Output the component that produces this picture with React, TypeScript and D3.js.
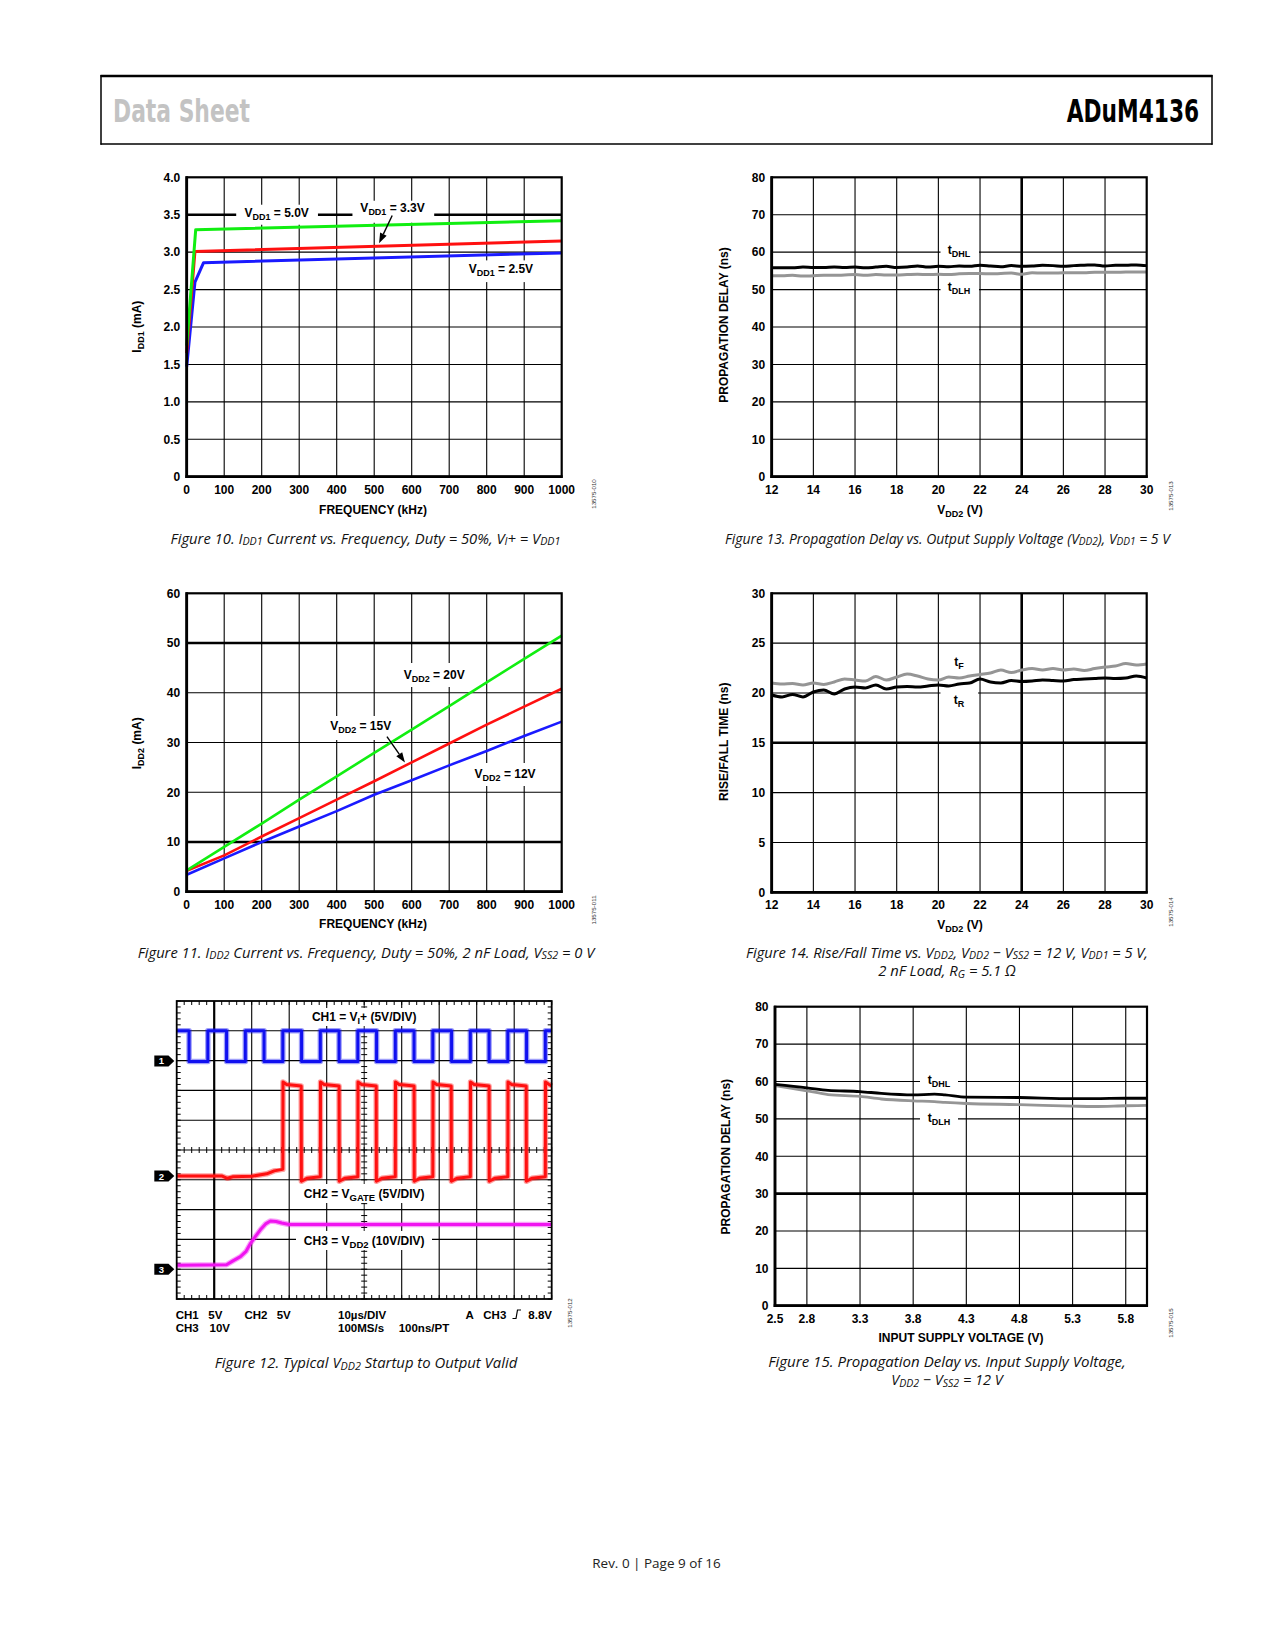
import React, { useLayoutEffect, useRef, useState } from 'react';
import * as d3 from 'd3';

// ---------------- DATA ----------------
// Figure 10: IDD1 vs frequency
const f10XTicks = [0, 100, 200, 300, 400, 500, 600, 700, 800, 900, 1000];
const f10YTicks = [0, 0.5, 1, 1.5, 2, 2.5, 3, 3.5, 4];
const f10Vdd50Freq = [0, 24, 1000];
const f10Vdd50Idd = [1.75, 3.3, 3.42];
const f10Vdd33Freq = [0, 22, 1000];
const f10Vdd33Idd = [1.65, 3.01, 3.15];
const f10Vdd25Freq = [0, 22, 45, 1000];
const f10Vdd25Idd = [1.47, 2.6, 2.86, 2.99];

// Figure 11: IDD2 vs frequency
const f11XTicks = [0, 100, 200, 300, 400, 500, 600, 700, 800, 900, 1000];
const f11YTicks = [0, 10, 20, 30, 40, 50, 60];
const f11Freq = [0, 100, 200, 300, 400, 500, 600, 700, 800, 900, 1000];
const f11Vdd20 = [4.3, 9.0, 13.7, 18.5, 23.2, 27.9, 32.6, 37.3, 42.1, 46.8, 51.5];
const f11Vdd15 = [4.2, 7.3, 11.1, 14.8, 18.5, 22.2, 26.0, 29.8, 33.6, 37.2, 40.8];
const f11Vdd12 = [3.4, 6.7, 10.0, 13.1, 16.2, 19.5, 22.4, 25.4, 28.3, 31.3, 34.2];

// Figure 13: propagation delay vs VDD2
const f13XTicks = [12, 14, 16, 18, 20, 22, 24, 26, 28, 30];
const f13YTicks = [0, 10, 20, 30, 40, 50, 60, 70, 80];
const f13Vdd2 = [12, 12.5, 13, 13.5, 14, 14.5, 15, 15.5, 16, 16.5, 17, 17.5, 18, 18.5, 19, 19.5, 20, 20.5, 21, 21.5, 22, 22.5, 23, 23.5, 24, 24.5, 25, 25.5, 26, 26.5, 27, 27.5, 28, 28.5, 29, 29.5, 30];
const f13Dhl = [55.8, 55.8, 55.8, 56.0, 55.9, 55.9, 56.0, 55.9, 56.0, 55.8, 56.0, 56.2, 55.9, 56.0, 56.3, 56.0, 56.2, 56.1, 56.3, 56.2, 56.5, 56.3, 56.1, 56.4, 56.2, 56.3, 56.5, 56.4, 56.2, 56.4, 56.5, 56.6, 56.3, 56.5, 56.5, 56.6, 56.4];
const f13Dlh = [53.7, 53.7, 53.8, 53.6, 53.7, 53.8, 53.8, 53.9, 54.0, 53.8, 54.0, 53.9, 53.9, 54.0, 54.1, 54.0, 54.1, 54.0, 54.2, 54.3, 54.3, 54.2, 54.3, 54.4, 54.1, 54.5, 54.4, 54.4, 54.5, 54.5, 54.5, 54.6, 54.6, 54.6, 54.7, 54.7, 54.7];

// Figure 14: rise/fall time vs VDD2
const f14XTicks = [12, 14, 16, 18, 20, 22, 24, 26, 28, 30];
const f14YTicks = [0, 5, 10, 15, 20, 25, 30];
const f14Vdd2 = [12, 12.5, 13, 13.5, 14, 14.5, 15, 15.5, 16, 16.5, 17, 17.5, 18, 18.5, 19, 19.5, 20, 20.5, 21, 21.5, 22, 22.5, 23, 23.5, 24, 24.5, 25, 25.5, 26, 26.5, 27, 27.5, 28, 28.5, 29, 29.5, 30];
const f14Tf = [21.0, 20.9, 20.95, 20.8, 21.0, 20.85, 21.1, 21.4, 21.3, 21.2, 21.65, 21.3, 21.6, 21.9, 21.7, 21.4, 21.3, 21.6, 21.5, 21.7, 21.85, 22.0, 22.3, 22.05, 22.3, 22.45, 22.3, 22.45, 22.3, 22.4, 22.25, 22.45, 22.6, 22.7, 22.95, 22.8, 22.9];
const f14Tr = [19.8, 19.6, 19.85, 19.6, 20.1, 20.3, 19.9, 20.4, 20.6, 20.5, 20.8, 20.4, 20.6, 20.65, 20.6, 20.7, 20.8, 20.7, 20.9, 21.0, 21.4, 21.1, 21.0, 21.25, 21.15, 21.2, 21.3, 21.25, 21.2, 21.35, 21.4, 21.45, 21.5, 21.45, 21.5, 21.7, 21.5];

// Figure 15: propagation delay vs input supply
const f15XTicks = [2.5, 2.8, 3.3, 3.8, 4.3, 4.8, 5.3, 5.8];
const f15YTicks = [0, 10, 20, 30, 40, 50, 60, 70, 80];
const f15Vdd1 = [2.5, 2.8, 3.0, 3.3, 3.5, 3.8, 4.0, 4.1, 4.3, 4.8, 5.3, 5.5, 5.8, 6.0];
const f15Dhl = [59.2, 58.3, 57.6, 57.3, 56.8, 56.4, 56.6, 56.4, 55.8, 55.7, 55.4, 55.4, 55.5, 55.5];
const f15Dlh = [58.9, 57.5, 56.5, 56.0, 55.3, 54.8, 54.6, 54.4, 54.1, 53.8, 53.4, 53.3, 53.5, 53.6];

// Figure 12: scope capture (time in µs, level in divisions from bottom)
const scDivs = [0, 1, 2, 3, 4, 5, 6, 7, 8, 9, 10];
const ch1High = 9.0;
const ch1Low = 7.97;
const ch1Fall = [3.3, 13.3, 23.3, 33.3, 43.3, 53.3, 63.3, 73.3, 83.3, 93.3];
const ch1Rise = [8.3, 18.3, 28.3, 38.3, 48.3, 58.3, 68.3, 78.3, 88.3, 98.3];
const ch2PreT = [0, 12, 13.5, 15, 20, 24, 26, 28.2];
const ch2PreV = [4.13, 4.13, 4.05, 4.1, 4.12, 4.2, 4.3, 4.35];
const ch2High = 7.15;
const ch2HighPeak = 7.28;
const ch2Low = 4.1;
const ch2LowDip = 3.95;
const ch2Rise = [28.3, 38.3, 48.3, 58.3, 68.3, 78.3, 88.3, 98.3];
const ch2Fall = [33.2, 43.3, 53.2, 63.3, 73.2, 83.3, 93.2];
const ch3T = [0, 13.3, 15, 17, 18.5, 19.7, 21, 22.3, 23.7, 25, 26.5, 28, 30, 100];
const ch3V = [1.13, 1.15, 1.28, 1.42, 1.6, 1.87, 2.1, 2.32, 2.52, 2.62, 2.6, 2.55, 2.5, 2.5];
const markerLevels = [7.99, 4.13, 1.0];
const markerNames = ['1', '2', '3'];

// ---------------- STYLE ----------------
const FONT = "'Liberation Sans', Arial, Helvetica, sans-serif";
const CAP = "'Open Sans', 'Noto Sans', sans-serif";
const NARROW = "'Liberation Sans Narrow', 'DejaVu Sans Condensed', 'Liberation Sans', sans-serif";
const GREEN = '#11ee11';
const RED = '#ff1010';
const BLUE = '#1a1aff';
const GRAY = '#959595';

type Sc = d3.ScaleLinear<number, number>;

function Rich(props: {
  x: number; y: number; s: string; size?: number; sub?: number; anchor?: string;
  weight?: string | number; family?: string; italic?: boolean; transform?: string;
  tl?: number; fill?: string; shift?: number;
}) {
  const ref = useRef<SVGTextElement>(null);
  const [sx, setSx] = useState(1);
  useLayoutEffect(() => {
    if (!props.tl) return;
    const measure = () => {
      const el = ref.current;
      if (!el) return;
      const w = el.getBBox().width;
      if (w > 0) setSx(props.tl! / w);
    };
    measure();
    const fs: any = (document as any).fonts;
    if (fs && fs.ready) fs.ready.then(measure);
  }, [props.tl, props.s]);

  const size = props.size ?? 12;
  const sub = props.sub ?? size * 0.75;
  const shift = props.shift ?? size * 0.25;
  const parts: { t: string; sub: boolean }[] = [];
  const re = /_\{([^}]*)\}/g;
  let last = 0;
  let m: RegExpExecArray | null;
  while ((m = re.exec(props.s))) {
    if (m.index > last) parts.push({ t: props.s.slice(last, m.index), sub: false });
    parts.push({ t: m[1], sub: true });
    last = m.index + m[0].length;
  }
  if (last < props.s.length) parts.push({ t: props.s.slice(last), sub: false });
  let down = false;
  const kids = parts.map((p, i) => {
    let dy = 0;
    if (p.sub && !down) { dy = shift; down = true; }
    else if (!p.sub && down) { dy = -shift; down = false; }
    return (
      <tspan key={i} dy={dy || undefined} fontSize={p.sub ? sub : size}>{p.t}</tspan>
    );
  });
  const common = {
    textAnchor: props.anchor ?? 'middle',
    fontFamily: props.family ?? FONT,
    fontWeight: props.weight ?? 'bold',
    fontStyle: props.italic ? 'italic' : 'normal',
    fontSize: size,
    fill: props.fill ?? '#000',
    style: { whiteSpace: 'pre' as const },
  };
  if (props.tl) {
    return (
      <g transform={`translate(${props.x},${props.y}) scale(${sx},1)`}>
        <text ref={ref} x={0} y={0} {...common}>{kids}</text>
      </g>
    );
  }
  return (
    <text
      x={props.transform ? undefined : props.x}
      y={props.transform ? undefined : props.y}
      transform={props.transform}
      {...common}
    >
      {kids}
    </text>
  );
}

function Grid(props: { x: Sc; y: Sc; xg: number[]; yg: number[]; xThick?: number[]; yThick?: number[] }) {
  const { x, y, xg, yg } = props;
  const xT = props.xThick ?? [];
  const yT = props.yThick ?? [];
  const [L, R] = x.range();
  const [B, T] = y.range();
  return (
    <g>
      {xg.filter(v => x(v) > L + 1 && x(v) < R - 1).map(v => (
        <line key={'x' + v} x1={x(v)} x2={x(v)} y1={T} y2={B} stroke="#000" strokeWidth={xT.includes(v) ? 2.6 : 1.1} />
      ))}
      {yg.filter(v => y(v) < B - 1 && y(v) > T + 1).map(v => (
        <line key={'y' + v} x1={L} x2={R} y1={y(v)} y2={y(v)} stroke="#000" strokeWidth={yT.includes(v) ? 2.6 : 1.1} />
      ))}
    </g>
  );
}

function Frame(props: { x: Sc; y: Sc }) {
  const [L, R] = props.x.range();
  const [B, T] = props.y.range();
  return (
    <g>
      <rect x={L} y={T} width={R - L} height={B - T} fill="none" stroke="#000" strokeWidth={2.2} />
      <line x1={L} x2={L} y1={T - 1} y2={B + 1.3} stroke="#000" strokeWidth={2.8} />
      <line x1={L - 1.3} x2={R + 1} y1={B} y2={B} stroke="#000" strokeWidth={2.8} />
    </g>
  );
}

function TickLabels(props: { x: Sc; y: Sc; xt: number[]; yt: number[]; xf: (v: number) => string; yf: (v: number) => string }) {
  const { x, y } = props;
  const [L] = x.range();
  const [B] = y.range();
  return (
    <g fontFamily={FONT} fontWeight="bold" fontSize={12} fill="#000">
      {props.xt.map(v => (
        <text key={'xt' + v} x={x(v)} y={B + 17} textAnchor="middle">{props.xf(v)}</text>
      ))}
      {props.yt.map(v => (
        <text key={'yt' + v} x={L - 6.5} y={y(v) + 4.3} textAnchor="end">{props.yf(v)}</text>
      ))}
    </g>
  );
}

function Arrow(props: { x1: number; y1: number; x2: number; y2: number }) {
  const { x1, y1, x2, y2 } = props;
  const a = Math.atan2(y2 - y1, x2 - x1);
  const len = 10;
  const w = 3.6;
  const bx = x2 - len * Math.cos(a);
  const by = y2 - len * Math.sin(a);
  const p1 = [bx + w * Math.sin(a), by - w * Math.cos(a)];
  const p2 = [bx - w * Math.sin(a), by + w * Math.cos(a)];
  return (
    <g>
      <line x1={x1} y1={y1} x2={bx} y2={by} stroke="#000" strokeWidth={1.4} />
      <polygon points={`${x2},${y2} ${p1[0]},${p1[1]} ${p2[0]},${p2[1]}`} fill="#000" />
    </g>
  );
}

function Bg(props: { x: number; y: number; w: number; h: number }) {
  return <rect x={props.x} y={props.y} width={props.w} height={props.h} fill="#fff" />;
}

function zip(a: number[], b: number[]): [number, number][] {
  return a.map((v, i) => [v, b[i]] as [number, number]);
}

function ChartId(props: { x: number; y: number; id: string }) {
  return (
    <text transform={`translate(${props.x},${props.y}) rotate(-90)`} textAnchor="middle" fontFamily={FONT} fontSize={6.2} fill="#333">
      {props.id}
    </text>
  );
}

// ---------------- FIGURE 10 ----------------
function Fig10() {
  const x = d3.scaleLinear().domain([0, 1000]).range([186.7, 561.7]);
  const y = d3.scaleLinear().domain([0, 4]).range([476.7, 177.3]);
  const line = d3.line<[number, number]>().x(d => x(d[0])).y(d => y(d[1]));
  const yl = y(3.5);
  return (
    <g>
      <Grid x={x} y={y} xg={f10XTicks} yg={f10YTicks} yThick={[3.5]} />
      <Bg x={x(132)} y={yl - 10} w={x(350) - x(132)} h={20} />
      <Bg x={x(442)} y={yl - 14} w={x(660) - x(442)} h={22} />
      <Bg x={x(737)} y={y(2.89)} w={x(940) - x(737)} h={y(2.6) - y(2.89)} />
      <path d={line(zip(f10Vdd25Freq, f10Vdd25Idd)) || ''} fill="none" stroke={BLUE} strokeWidth={3} strokeLinejoin="round" />
      <path d={line(zip(f10Vdd33Freq, f10Vdd33Idd)) || ''} fill="none" stroke={RED} strokeWidth={3} strokeLinejoin="round" />
      <path d={line(zip(f10Vdd50Freq, f10Vdd50Idd)) || ''} fill="none" stroke={GREEN} strokeWidth={3} strokeLinejoin="round" />
      <Frame x={x} y={y} />
      <TickLabels x={x} y={y} xt={f10XTicks} yt={f10YTicks} xf={v => String(v)} yf={v => (v === 0 ? '0' : v.toFixed(1))} />
      <Rich x={x(240)} y={yl + 2} s={'V_{DD1} = 5.0V'} />
      <Rich x={x(549)} y={yl - 2.6} s={'V_{DD1} = 3.3V'} />
      <Arrow x1={x(548)} y1={y(3.49)} x2={x(513)} y2={y(3.12)} />
      <Rich x={x(838)} y={y(2.72)} s={'V_{DD1} = 2.5V'} />
      <Rich x={373} y={513.5} s={'FREQUENCY (kHz)'} />
      <Rich x={0} y={0} transform={`translate(141,326.7) rotate(-90)`} s={'I_{DD1} (mA)'} />
      <ChartId x={596} y={494} id="13575-010" />
    </g>
  );
}

// ---------------- FIGURE 11 ----------------
function Fig11() {
  const x = d3.scaleLinear().domain([0, 1000]).range([186.7, 561.7]);
  const y = d3.scaleLinear().domain([0, 60]).range([891.7, 593.3]);
  const line = d3.line<[number, number]>().x(d => x(d[0])).y(d => y(d[1]));
  return (
    <g>
      <Grid x={x} y={y} xg={f11XTicks} yg={f11YTicks} yThick={[10, 50]} />
      <Bg x={398} y={663} w={72} h={24} />
      <Bg x={325} y={716} w={72} h={24} />
      <Bg x={469} y={763} w={72} h={23} />
      <path d={line(zip(f11Freq, f11Vdd12)) || ''} fill="none" stroke={BLUE} strokeWidth={2.6} strokeLinejoin="round" />
      <path d={line(zip(f11Freq, f11Vdd15)) || ''} fill="none" stroke={RED} strokeWidth={2.6} strokeLinejoin="round" />
      <path d={line(zip(f11Freq, f11Vdd20)) || ''} fill="none" stroke={GREEN} strokeWidth={2.6} strokeLinejoin="round" />
      <Frame x={x} y={y} />
      <TickLabels x={x} y={y} xt={f11XTicks} yt={f11YTicks} xf={v => String(v)} yf={v => String(v)} />
      <Rich x={x(660)} y={y(42.8)} s={'V_{DD2} = 20V'} />
      <Rich x={x(464)} y={y(32.5)} s={'V_{DD2} = 15V'} />
      <Arrow x1={x(534)} y1={y(31.2)} x2={x(582)} y2={y(26.0)} />
      <Rich x={x(849)} y={y(22.8)} s={'V_{DD2} = 12V'} />
      <Rich x={373} y={928} s={'FREQUENCY (kHz)'} />
      <Rich x={0} y={0} transform={`translate(141,743.3) rotate(-90)`} s={'I_{DD2} (mA)'} />
      <ChartId x={596} y={910} id="13575-011" />
    </g>
  );
}

// ---------------- FIGURE 13 ----------------
function Fig13() {
  const x = d3.scaleLinear().domain([12, 30]).range([771.7, 1146.7]);
  const y = d3.scaleLinear().domain([0, 80]).range([476.7, 177.3]);
  const line = d3.line<[number, number]>().x(d => x(d[0])).y(d => y(d[1])).curve(d3.curveMonotoneX);
  return (
    <g>
      <Grid x={x} y={y} xg={f13XTicks} yg={f13YTicks} xThick={[24]} />
      <Bg x={940.5} y={y(60) - 10} w={38.5} h={20} />
      <Bg x={940.5} y={y(50) - 10} w={38.5} h={20} />
      <path d={line(zip(f13Vdd2, f13Dlh)) || ''} fill="none" stroke={GRAY} strokeWidth={3} />
      <path d={line(zip(f13Vdd2, f13Dhl)) || ''} fill="none" stroke="#000" strokeWidth={3} />
      <Frame x={x} y={y} />
      <TickLabels x={x} y={y} xt={f13XTicks} yt={f13YTicks} xf={v => String(v)} yf={v => String(v)} />
      <Rich x={959} y={y(60) + 1.8} s={'t_{DHL}'} sub={9} shift={3} />
      <Rich x={959} y={y(50) + 1.3} s={'t_{DLH}'} sub={9} shift={3} />
      <Rich x={960} y={513.5} s={'V_{DD2} (V)'} />
      <Rich x={0} y={0} transform={`translate(728,325) rotate(-90)`} s={'PROPAGATION DELAY (ns)'} />
      <ChartId x={1173} y={496} id="13575-013" />
    </g>
  );
}

// ---------------- FIGURE 14 ----------------
function Fig14() {
  const x = d3.scaleLinear().domain([12, 30]).range([771.7, 1146.7]);
  const y = d3.scaleLinear().domain([0, 30]).range([892.3, 593.3]);
  const line = d3.line<[number, number]>().x(d => x(d[0])).y(d => y(d[1])).curve(d3.curveMonotoneX);
  return (
    <g>
      <Grid x={x} y={y} xg={f14XTicks} yg={f14YTicks} xThick={[24]} yThick={[15]} />
      <Bg x={940.5} y={688} w={37.5} h={20} />
      <path d={line(zip(f14Vdd2, f14Tf)) || ''} fill="none" stroke={GRAY} strokeWidth={3} />
      <path d={line(zip(f14Vdd2, f14Tr)) || ''} fill="none" stroke="#000" strokeWidth={3} />
      <Frame x={x} y={y} />
      <TickLabels x={x} y={y} xt={f14XTicks} yt={f14YTicks} xf={v => String(v)} yf={v => String(v)} />
      <Rich x={959} y={665.5} s={'t_{F}'} sub={9} shift={3} />
      <Rich x={959} y={704.3} s={'t_{R}'} sub={9} shift={3} />
      <Rich x={960} y={929} s={'V_{DD2} (V)'} />
      <Rich x={0} y={0} transform={`translate(728,741.7) rotate(-90)`} s={'RISE/FALL TIME (ns)'} />
      <ChartId x={1173} y={912} id="13575-014" />
    </g>
  );
}

// ---------------- FIGURE 15 ----------------
function Fig15() {
  const x = d3.scaleLinear().domain([2.5, 6.0]).range([775, 1147]);
  const y = d3.scaleLinear().domain([0, 80]).range([1305.7, 1006.7]);
  const line = d3.line<[number, number]>().x(d => x(d[0])).y(d => y(d[1])).curve(d3.curveMonotoneX);
  return (
    <g>
      <Grid x={x} y={y} xg={f15XTicks} yg={f15YTicks} yThick={[30]} />
      <Bg x={920} y={y(60) - 10} w={38} h={20} />
      <Bg x={920} y={y(50) - 10} w={38} h={20} />
      <path d={line(zip(f15Vdd1, f15Dlh)) || ''} fill="none" stroke={GRAY} strokeWidth={2.8} />
      <path d={line(zip(f15Vdd1, f15Dhl)) || ''} fill="none" stroke="#000" strokeWidth={2.8} />
      <Frame x={x} y={y} />
      <TickLabels x={x} y={y} xt={f15XTicks} yt={f15YTicks} xf={v => v.toFixed(1)} yf={v => String(v)} />
      <Rich x={939} y={y(60) + 2.8} s={'t_{DHL}'} sub={9} shift={3} />
      <Rich x={939} y={y(50) + 2.8} s={'t_{DLH}'} sub={9} shift={3} />
      <Rich x={961} y={1342} s={'INPUT SUPPLY VOLTAGE (V)'} />
      <Rich x={0} y={0} transform={`translate(729.5,1156.7) rotate(-90)`} s={'PROPAGATION DELAY (ns)'} />
      <ChartId x={1173} y={1323} id="13575-015" />
    </g>
  );
}

// ---------------- FIGURE 12 (scope) ----------------
function squareWave(fall: number[], rise: number[], hi: number, lo: number, t0: number, t1: number, startHigh: boolean): [number, number][] {
  const ev = [...fall.map(t => ({ t, h: false })), ...rise.map(t => ({ t, h: true }))].sort((a, b) => a.t - b.t);
  let cur = startHigh ? hi : lo;
  const pts: [number, number][] = [[t0, cur]];
  ev.forEach(e => {
    pts.push([e.t, cur]);
    cur = e.h ? hi : lo;
    pts.push([e.t, cur]);
  });
  pts.push([t1, cur]);
  return pts;
}

function gateWave(): [number, number][] {
  const pts: [number, number][] = zip(ch2PreT, ch2PreV);
  const ev = [...ch2Fall.map(t => ({ t, h: false })), ...ch2Rise.map(t => ({ t, h: true }))].sort((a, b) => a.t - b.t);
  let cur = ch2PreV[ch2PreV.length - 1];
  ev.forEach(e => {
    pts.push([e.t, cur]);
    if (e.h) {
      pts.push([e.t + 0.05, ch2HighPeak]);
      pts.push([e.t + 1.0, ch2High + 0.05]);
      cur = ch2High;
    } else {
      pts.push([e.t + 0.05, ch2LowDip]);
      pts.push([e.t + 1.5, ch2Low - 0.05]);
      cur = ch2Low;
    }
  });
  pts.push([100, cur]);
  return pts;
}

function Fig12() {
  const L = 176.7, R = 551.7, T = 1001, B = 1299;
  const x = d3.scaleLinear().domain([0, 100]).range([L, R]);
  const y = d3.scaleLinear().domain([0, 10]).range([B, T]);
  const xd = d3.scaleLinear().domain([0, 10]).range([L, R]);
  const line = d3.line<[number, number]>().x(d => x(d[0])).y(d => y(d[1]));
  const cx = xd(5);
  const cy = y(5);
  const minorX = d3.range(0, 10.01, 0.2);
  const minorY = d3.range(0, 10.01, 0.2);
  const ch1 = squareWave(ch1Fall, ch1Rise, ch1High, ch1Low, 0, 100, true);
  const ch2 = gateWave();
  const ch3 = zip(ch3T, ch3V);
  const trace = (pts: [number, number][], c: string) => (
    <g>
      <path d={line(pts) || ''} fill="none" stroke={c} strokeWidth={5.5} strokeOpacity={0.4} strokeLinejoin="round" />
      <path d={line(pts) || ''} fill="none" stroke={c} strokeWidth={3} strokeLinejoin="round" />
    </g>
  );
  return (
    <g>
      {scDivs.filter(v => v > 0 && v < 10).map(v => (
        <line key={'sv' + v} x1={xd(v)} x2={xd(v)} y1={T} y2={B} stroke="#000" strokeWidth={v === 1 ? 2.2 : v === 5 ? 0.9 : 1.1} />
      ))}
      {scDivs.filter(v => v > 0 && v < 10).map(v => (
        <line key={'sh' + v} x1={L} x2={R} y1={y(v)} y2={y(v)} stroke="#000" strokeWidth={1.1} />
      ))}
      {minorX.map((v, i) => (
        <g key={'mx' + i}>
          <line x1={xd(v)} x2={xd(v)} y1={T} y2={T + 4} stroke="#000" strokeWidth={1} />
          <line x1={xd(v)} x2={xd(v)} y1={B} y2={B - 4} stroke="#000" strokeWidth={1} />
          <line x1={xd(v)} x2={xd(v)} y1={cy - 3} y2={cy + 3} stroke="#000" strokeWidth={1} />
        </g>
      ))}
      {minorY.map((v, i) => (
        <g key={'my' + i}>
          <line x1={L} x2={L + 4} y1={y(v)} y2={y(v)} stroke="#000" strokeWidth={1} />
          <line x1={R} x2={R - 4} y1={y(v)} y2={y(v)} stroke="#000" strokeWidth={1} />
          <line x1={cx - 3} x2={cx + 3} y1={y(v)} y2={y(v)} stroke="#000" strokeWidth={1} />
        </g>
      ))}
      <Bg x={306} y={1008} w={116} h={18} />
      <Bg x={296} y={1184} w={136} h={19} />
      <Bg x={296} y={1231} w={136} h={19} />
      {trace(ch3, '#f014f0')}
      {trace(ch2, RED)}
      {trace(ch1, '#1010f0')}
      <rect x={L} y={T} width={R - L} height={B - T} fill="none" stroke="#000" strokeWidth={1.8} />
      <Rich x={cx} y={1021} s={'CH1 = V_{I}+ (5V/DIV)'} size={12} sub={9} shift={3} />
      <Rich x={cx} y={1197.5} s={'CH2 = V_{GATE} (5V/DIV)'} size={12} sub={9.5} shift={3} />
      <Rich x={cx} y={1244.5} s={'CH3 = V_{DD2} (10V/DIV)'} size={12} sub={9.5} shift={3} />
      {markerLevels.map((lv, i) => (
        <g key={'mk' + i}>
          <polygon points={`154.3,${y(lv) - 5.5} 168.5,${y(lv) - 5.5} 174.3,${y(lv)} 168.5,${y(lv) + 5.5} 154.3,${y(lv) + 5.5}`} fill="#000" />
          <text x={161.5} y={y(lv) + 3.6} textAnchor="middle" fontFamily={FONT} fontWeight="bold" fontSize={9.5} fill="#fff">{markerNames[i]}</text>
        </g>
      ))}
      <g fontFamily={FONT} fontWeight="bold" fontSize={11.5} fill="#000" style={{ whiteSpace: 'pre' }}>
        <text x={175.7} y={1318.5}>CH1</text>
        <text x={208.3} y={1318.5}>5V</text>
        <text x={244.5} y={1318.5}>CH2</text>
        <text x={276.7} y={1318.5}>5V</text>
        <text x={338} y={1318.5}>10µs/DIV</text>
        <text x={465.5} y={1318.5}>A</text>
        <text x={483.3} y={1318.5}>CH3</text>
        <text x={552} y={1318.5} textAnchor="end">8.8V</text>
        <text x={175.7} y={1331.5}>CH3</text>
        <text x={209.5} y={1331.5}>10V</text>
        <text x={338} y={1331.5}>100MS/s</text>
        <text x={398.7} y={1331.5}>100ns/PT</text>
      </g>
      <path d="M512.5,1318.5 h3.5 l1.5,-8.5 h3.5" fill="none" stroke="#000" strokeWidth={1.2} />
      <ChartId x={572} y={1313} id="13575-012" />
    </g>
  );
}

// ---------------- PAGE ----------------
export default function App() {
  return (
    <svg width={1275} height={1650} viewBox="0 0 1275 1650" style={{ position: 'absolute', left: 0, top: 0, display: 'block', background: '#fff' }}>
      <rect x={0} y={0} width={1275} height={1650} fill="#fff" />
      {/* header */}
      <line x1={100.5} x2={1212.5} y1={76} y2={76} stroke="#000" strokeWidth={2.4} />
      <line x1={100.5} x2={1212.5} y1={144} y2={144} stroke="#000" strokeWidth={1.5} />
      <line x1={101} x2={101} y1={75} y2={144.7} stroke="#000" strokeWidth={1.5} />
      <line x1={1212} x2={1212} y1={75} y2={144.7} stroke="#000" strokeWidth={1.5} />
      <text x={113} y={121.7} fontFamily={NARROW} fontWeight="bold" fontSize={32} fill="#c3c3c3" textLength={137} lengthAdjust="spacingAndGlyphs">Data Sheet</text>
      <text x={1066.7} y={121.7} fontFamily={NARROW} fontWeight="bold" fontSize={32} fill="#000" textLength={132.5} lengthAdjust="spacingAndGlyphs">ADuM4136</text>

      <Fig10 />
      <Fig13 />
      <Fig11 />
      <Fig14 />
      <Fig12 />
      <Fig15 />

      {/* captions */}
      <Rich x={365.5} y={543.5} s={'Figure 10. I_{DD1} Current vs. Frequency, Duty = 50%, V_{I}+ = V_{DD1}'} family={CAP} weight="normal" italic size={14.5} sub={10.5} shift={1.5} tl={390} fill="#111" />
      <Rich x={947.4} y={543.5} s={'Figure 13. Propagation Delay vs. Output Supply Voltage (V_{DD2}), V_{DD1} = 5 V'} family={CAP} weight="normal" italic size={14.5} sub={10.5} shift={1.5} tl={447} fill="#111" />
      <Rich x={366} y={957.5} s={'Figure 11. I_{DD2} Current vs. Frequency, Duty = 50%, 2 nF Load, V_{SS2} = 0 V'} family={CAP} weight="normal" italic size={14.5} sub={10.5} shift={1.5} tl={458.6} fill="#111" />
      <Rich x={947} y={957.5} s={'Figure 14. Rise/Fall Time vs. V_{DD2}, V_{DD2} − V_{SS2} = 12 V, V_{DD1} = 5 V,'} family={CAP} weight="normal" italic size={14.5} sub={10.5} shift={1.5} tl={402} fill="#111" />
      <Rich x={947} y={976} s={'2 nF Load, R_{G} = 5.1 Ω'} family={CAP} weight="normal" italic size={14.5} sub={10.5} shift={1.5} tl={138} fill="#111" />
      <Rich x={366} y={1368} s={'Figure 12. Typical V_{DD2} Startup to Output Valid'} family={CAP} weight="normal" italic size={14.5} sub={10.5} shift={1.5} tl={303} fill="#111" />
      <Rich x={947} y={1367} s={'Figure 15. Propagation Delay vs. Input Supply Voltage,'} family={CAP} weight="normal" italic size={14.5} sub={10.5} shift={1.5} tl={357.6} fill="#111" />
      <Rich x={947} y={1385} s={'V_{DD2} − V_{SS2} = 12 V'} family={CAP} weight="normal" italic size={14.5} sub={10.5} shift={1.5} tl={113.6} fill="#111" />

      {/* footer */}
      <text x={656.5} y={1568} textAnchor="middle" fontFamily={CAP} fontSize={13.5} fill="#222" textLength={128.5} lengthAdjust="spacingAndGlyphs">Rev. 0 | Page 9 of 16</text>
    </svg>
  );
}
